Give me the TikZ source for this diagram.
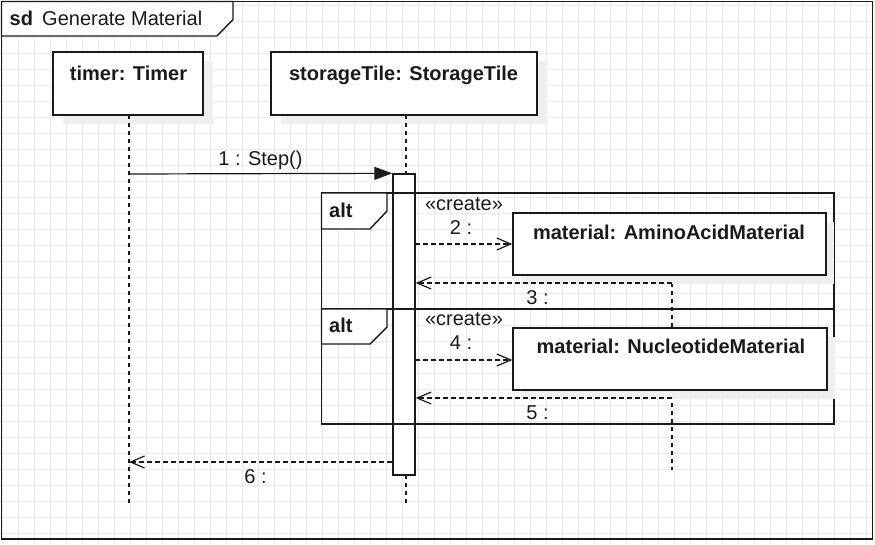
\documentclass[tikz,border=0pt]{standalone}
\usepackage{fontspec}
\setmainfont{Liberation Sans}
\usetikzlibrary{arrows.meta}
\definecolor{gridc}{HTML}{EBEBEB}
\definecolor{ink}{HTML}{1A1A1A}
\definecolor{txt}{HTML}{1A1A1A}
\definecolor{shade}{HTML}{EFEFEF}
\begin{document}
\begin{tikzpicture}[x=1pt,y=-1pt,
  every node/.style={font=\fontsize{20}{24}\selectfont, text=txt, inner sep=0pt},
  boldtxt/.style={font=\bfseries\fontsize{20}{24}\selectfont, anchor=base},
  plaintxt/.style={anchor=base},
  objbox/.style={draw=ink, line width=1.4pt, fill=white, minimum height=63pt},
  shadowbox/.style={fill=shade, draw=none, minimum height=63pt},
  lifeline/.style={draw=ink, line width=1.2pt, dash pattern=on 4pt off 4pt},
  synch/.style={draw=ink, line width=1.2pt, -{Triangle[length=18pt,width=13pt]}},
  dmsg/.style={draw=ink, line width=1.2pt, dash pattern=on 5pt off 3pt, -{Straight Barb[length=14pt,width=12pt,line width=1.2pt]}},
  fragline/.style={draw=ink, line width=1.4pt},
  tabshape/.style={draw=ink, line width=1.4pt, fill=white, line join=miter}
]
\useasboundingbox (0,0) rectangle (875,544);
% grid
\foreach \k in {0,...,54} \draw[gridc, line width=1pt] ({2.3+16*\k},0) -- ({2.3+16*\k},544);
\foreach \k in {0,...,33} \draw[gridc, line width=1pt] (0,{5.5+16*\k}) -- (875,{5.5+16*\k});

% outer frame
\draw[draw=ink, line width=1.9pt] (1.5,1.5) rectangle (872.5,539.3);
\draw[tabshape] (1.5,1.5) -- (233,1.5) -- (233,19.5) -- (217,36) -- (1.5,36) -- cycle;
\node[boldtxt, anchor=base west] (sd) at (9.5,25.5) {sd};
\node[plaintxt, anchor=base west] (title) at (42,25.5) {Generate Material};

% lifeline heads
\node[shadowbox, minimum width=150pt] (timersh) at (137.5,92.5) {};
\node[objbox, minimum width=150pt] (timer) at (128,83.5) {};
\node[boldtxt] (timert) at (128.5,80) {timer: Timer};
\node[shadowbox, minimum width=266pt] (stsh) at (413.5,92.5) {};
\node[objbox, minimum width=266pt] (st) at (404,83.5) {};
\node[boldtxt] (stt) at (403.5,80) {storageTile: StorageTile};

% lifelines
\coordinate (tl0) at (129,115);
\coordinate (tl1) at (129,505);
\coordinate (sl0) at (406,115);
\coordinate (sl1) at (406,505);
\draw[lifeline] (tl0) -- (tl1);
\draw[lifeline] (sl0) -- (sl1);

% material lifeline
\coordinate (ml0) at (672,275);
\coordinate (ml1) at (672,470);
\draw[lifeline] (ml0) -- (ml1);

% activation bar
\node[draw=ink, line width=1.4pt, fill=white, minimum width=22pt, minimum height=301pt] (act) at (404,324.5) {};

% message 1
\coordinate (m1a) at (129,174);
\draw[synch] (m1a) -- (act.north west);
\node[plaintxt] (m1t) at (260.5,165) {1 : Step()};

% alt fragments
\draw[fragline] (321.5,193) rectangle (834,309);
\draw[fragline] (321.5,309) rectangle (834,424);
\draw[tabshape] (321.5,193) -- (387,193) -- (387,211) -- (370,229) -- (321.5,229) -- cycle;
\draw[tabshape] (321.5,309) -- (387,309) -- (387,327) -- (370,344) -- (321.5,344) -- cycle;
\node[boldtxt, anchor=base west] (alt1) at (329,217) {alt};
\node[boldtxt, anchor=base west] (alt2) at (329,332) {alt};

% created objects
\node[shadowbox, minimum width=313pt, minimum height=62pt] (amsh) at (677.5,253) {};
\node[objbox, minimum width=313pt, minimum height=62pt] (am) at (669.5,244) {};
\node[boldtxt] (amt) at (669,239) {material: AminoAcidMaterial};
\node[shadowbox, minimum width=314pt, minimum height=62pt] (nmsh) at (678,368) {};
\node[objbox, minimum width=314pt, minimum height=62pt] (nm) at (670,359) {};
\node[boldtxt] (nmt) at (671,353) {material: NucleotideMaterial};

% stereotypes
\node[plaintxt] (cr1) at (464,210) {«create»};
\node[plaintxt] (cr2) at (464,325) {«create»};

% messages 2-5
\coordinate (m2a) at (415,244);
\draw[dmsg] (m2a) -- (am.west |- m2a);
\node[plaintxt] (m2t) at (461,234) {2 :};
\coordinate (m3a) at (672,283);
\draw[dmsg] (m3a) -- (act.east |- m3a);
\node[plaintxt] (m3t) at (537.5,304) {3 :};
\coordinate (m4a) at (415,360);
\draw[dmsg] (m4a) -- (nm.west |- m4a);
\node[plaintxt] (m4t) at (461,349) {4 :};
\coordinate (m5a) at (672,398);
\draw[dmsg] (m5a) -- (act.east |- m5a);
\node[plaintxt] (m5t) at (537.5,419) {5 :};

% message 6
\coordinate (m6b) at (129,462);
\draw[dmsg] (act.west |- m6b) -- (m6b);
\node[plaintxt] (m6t) at (255.5,483) {6 :};
\end{tikzpicture}
\end{document}
